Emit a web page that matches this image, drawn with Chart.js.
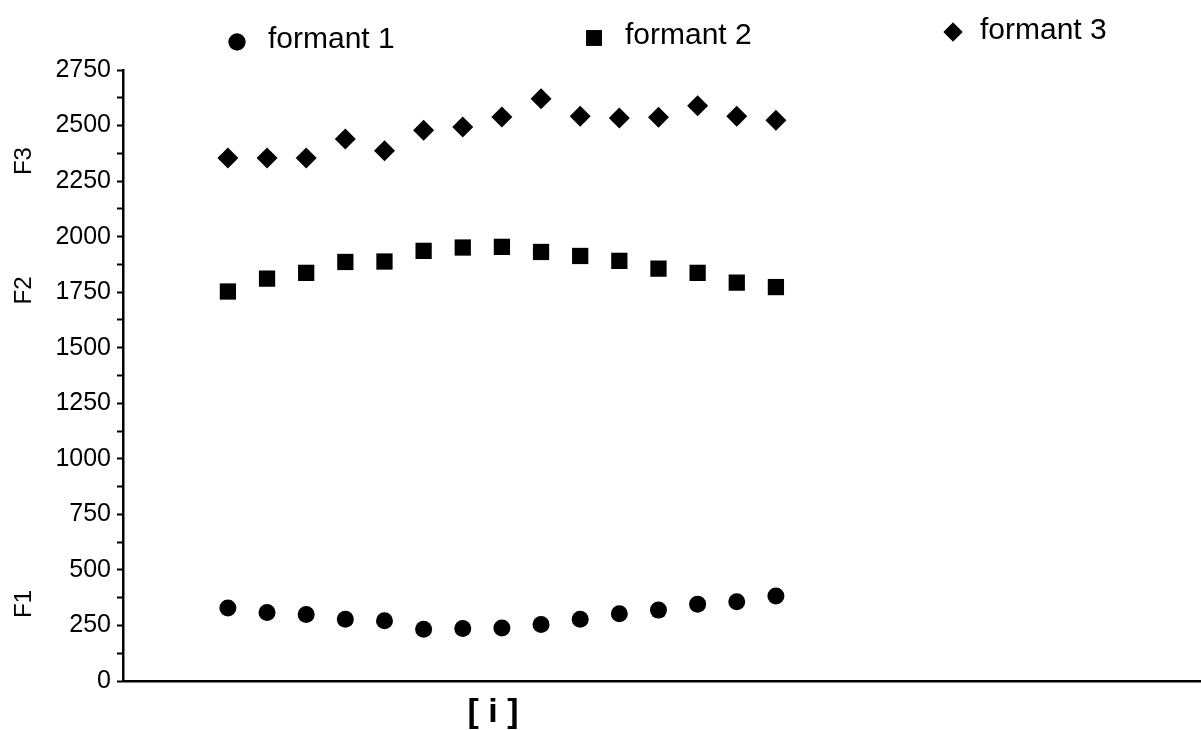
<!DOCTYPE html>
<html><head><meta charset="utf-8">
<script src="https://cdn.jsdelivr.net/npm/chart.js@4.4.1/dist/chart.umd.min.js"></script>
<style>html,body{margin:0;padding:0;background:#fff}</style>
</head><body>
<canvas id="c" width="1201" height="730"></canvas>
<script>
// ---- data ----
const samples = [1, 2, 3, 4, 5, 6, 7, 8, 9, 10, 11, 12, 13, 14, 15];
const formant1 = [329, 308, 299, 278, 271, 233, 236, 239, 254, 278, 303, 319, 346, 357, 383];
const formant2 = [1753, 1811, 1837, 1886, 1888, 1936, 1951, 1954, 1931, 1913, 1891, 1856, 1837, 1793, 1773];
const formant3 = [2354, 2354, 2354, 2439, 2387, 2479, 2494, 2539, 2621, 2542, 2534, 2537, 2589, 2542, 2524];
const seriesNames = ['formant 1', 'formant 2', 'formant 3'];
const sideLabels = ['F1', 'F2', 'F3'];
const xAxisLabel = '[ i ]';

const toPts = arr => arr.map((v, i) => ({x: samples[i], y: v}));

const FONT = '"Liberation Sans", Arial, sans-serif';

const decorPlugin = {
  id: 'decor',
  afterDraw(chart) {
    const ctx = chart.ctx;
    const y = chart.scales.y;
    ctx.save();
    ctx.fillStyle = '#000';
    // side labels F1/F2/F3 rotated
    const sideVals = [347, 1758, 2340];
    ctx.font = '24px ' + FONT;
    ctx.textAlign = 'center';
    ctx.textBaseline = 'middle';
    sideLabels.forEach((t, i) => {
      ctx.save();
      ctx.translate(24, y.getPixelForValue(sideVals[i]));
      ctx.rotate(-Math.PI / 2);
      ctx.fillText(t, 0, 0);
      ctx.restore();
    });
    // x axis label
    ctx.font = 'bold 34px ' + FONT;
    ctx.textBaseline = 'alphabetic';
    ctx.fillText(xAxisLabel, 493, 722);
    // legend
    const items = [
      {mx: 237, my: 42, tx: 268, ty: 48},
      {mx: 594, my: 38, tx: 625, ty: 44},
      {mx: 953, my: 32, tx: 980, ty: 39}
    ];
    ctx.font = '30px ' + FONT;
    ctx.textAlign = 'left';
    chart.data.datasets.forEach((ds, i) => {
      const it = items[i];
      const r = i === 0 ? 8.5 : (i === 1 ? 11 : 9.5);
      Chart.helpers.drawPoint(ctx, {pointStyle: ds.pointStyle, rotation: 0, borderWidth: 0, radius: r}, it.mx, it.my);
      ctx.fill();
      ctx.fillText(ds.label, it.tx, it.ty);
    });
    ctx.restore();
  }
};

new Chart(document.getElementById('c'), {
  type: 'scatter',
  data: {
    datasets: [
      {label: seriesNames[0], data: toPts(formant1), pointStyle: 'circle', pointRadius: 8.5, backgroundColor: '#000', borderColor: '#000', borderWidth: 0},
      {label: seriesNames[1], data: toPts(formant2), pointStyle: 'rect', pointRadius: 11.5, backgroundColor: '#000', borderColor: '#000', borderWidth: 0},
      {label: seriesNames[2], data: toPts(formant3), pointStyle: 'rectRot', pointRadius: 10.5, backgroundColor: '#000', borderColor: '#000', borderWidth: 0}
    ]
  },
  options: {
    responsive: false,
    animation: false,
    events: [],
    layout: {autoPadding: false, padding: {top: 70, left: 0, right: 0, bottom: 49}},
    plugins: {legend: {display: false}, tooltip: {enabled: false}},
    scales: {
      x: {
        type: 'linear', min: -1.68, max: 25.86,
        ticks: {display: false},
        grid: {display: false, drawTicks: false},
        border: {display: true, color: '#000', width: 2.5},
        afterFit(s) { s.height = 0; }
      },
      y: {
        min: 0, max: 2750,
        ticks: {
          stepSize: 125, autoSkip: false, color: '#000', padding: 6,
          font: {family: FONT, size: 25},
          callback: v => (v % 250 === 0 ? String(v) : '')
        },
        grid: {drawOnChartArea: false, drawTicks: true, tickLength: 6, tickColor: '#000', tickWidth: 2},
        border: {display: true, color: '#000', width: 2.5},
        afterFit(s) { s.width = 123; }
      }
    }
  },
  plugins: [decorPlugin]
});
</script>
</body></html>
